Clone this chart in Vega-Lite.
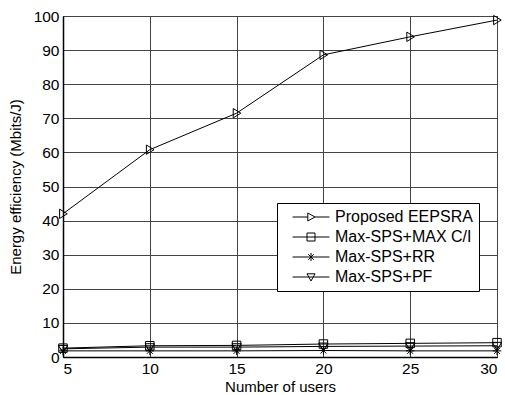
{
  "$schema": "https://vega.github.io/schema/vega-lite/v6.json",
  "width": 434,
  "height": 341,
  "autosize": {"type": "none"},
  "padding": {"left": 63, "top": 16, "right": 8, "bottom": 38},
  "background": "white",
  "config": {
    "font": "Liberation Sans",
    "view": {"stroke": "black", "strokeWidth": 1},
    "axis": {
      "labelFont": "Liberation Sans",
      "titleFont": "Liberation Sans",
      "labelFontSize": 15.5,
      "titleFontSize": 15,
      "labelColor": "black",
      "titleColor": "black",
      "titleFontWeight": "normal",
      "domainColor": "black",
      "domainWidth": 1.5,
      "gridColor": "#444",
      "gridWidth": 1,
      "gridOpacity": 1,
      "tickSize": 0
    }
  },
  "data": {
    "values": [
      {"users": 5, "ee": 42.0, "series": "Proposed EEPSRA"},
      {"users": 10, "ee": 60.8, "series": "Proposed EEPSRA"},
      {"users": 15, "ee": 71.5, "series": "Proposed EEPSRA"},
      {"users": 20, "ee": 88.6, "series": "Proposed EEPSRA"},
      {"users": 25, "ee": 93.9, "series": "Proposed EEPSRA"},
      {"users": 30, "ee": 98.8, "series": "Proposed EEPSRA"},
      {"users": 5, "ee": 2.6, "series": "Max-SPS+MAX C/I"},
      {"users": 10, "ee": 3.3, "series": "Max-SPS+MAX C/I"},
      {"users": 15, "ee": 3.4, "series": "Max-SPS+MAX C/I"},
      {"users": 20, "ee": 3.8, "series": "Max-SPS+MAX C/I"},
      {"users": 25, "ee": 4.0, "series": "Max-SPS+MAX C/I"},
      {"users": 30, "ee": 4.2, "series": "Max-SPS+MAX C/I"},
      {"users": 5, "ee": 1.8, "series": "Max-SPS+RR"},
      {"users": 10, "ee": 1.8, "series": "Max-SPS+RR"},
      {"users": 15, "ee": 1.8, "series": "Max-SPS+RR"},
      {"users": 20, "ee": 1.9, "series": "Max-SPS+RR"},
      {"users": 25, "ee": 1.8, "series": "Max-SPS+RR"},
      {"users": 30, "ee": 1.8, "series": "Max-SPS+RR"},
      {"users": 5, "ee": 2.4, "series": "Max-SPS+PF"},
      {"users": 10, "ee": 2.9, "series": "Max-SPS+PF"},
      {"users": 15, "ee": 2.9, "series": "Max-SPS+PF"},
      {"users": 20, "ee": 3.1, "series": "Max-SPS+PF"},
      {"users": 25, "ee": 3.2, "series": "Max-SPS+PF"},
      {"users": 30, "ee": 3.3, "series": "Max-SPS+PF"}
    ]
  },
  "encoding": {
    "x": {
      "field": "users",
      "type": "quantitative",
      "scale": {"domain": [5, 30], "nice": false, "zero": false},
      "axis": {"values": [5, 10, 15, 20, 25, 30], "title": "Number of users", "labelPadding": 4, "titlePadding": 3, "grid": true}
    },
    "y": {
      "field": "ee",
      "type": "quantitative",
      "scale": {"domain": [0, 100], "nice": false},
      "axis": {"values": [0, 10, 20, 30, 40, 50, 60, 70, 80, 90, 100], "title": "Energy efficiency (Mbits/J)", "labelPadding": 4, "titlePadding": 10, "grid": true}
    }
  },
  "layer": [
    {
      "mark": {"type": "line", "color": "black", "strokeWidth": 1},
      "encoding": {"detail": {"field": "series"}}
    },
    {
      "mark": {"type": "point", "filled": false, "color": "black", "strokeWidth": 1, "size": 72, "opacity": 1},
      "encoding": {
        "shape": {
          "field": "series",
          "type": "nominal",
          "scale": {
            "domain": ["Proposed EEPSRA", "Max-SPS+MAX C/I", "Max-SPS+RR", "Max-SPS+PF"],
            "range": [
              "M-0.8,-1.1L1,0L-0.8,1.1Z",
              "M-1,-1L1,-1L1,1L-1,1Z",
              "M-1,0L1,0M0,-1L0,1M-0.7,-0.7L0.7,0.7M-0.7,0.7L0.7,-0.7",
              "M-1.1,-0.8L1.1,-0.8L0,1Z"
            ]
          },
          "legend": null
        }
      }
    },
    {
      "transform": [{"filter": "false"}],
      "mark": {"type": "point", "filled": false, "color": "black", "strokeWidth": 1, "size": 64, "opacity": 1},
      "encoding": {
        "shape": {
          "field": "series",
          "type": "nominal",
          "scale": {
            "domain": ["Proposed EEPSRA", "Max-SPS+MAX C/I", "Max-SPS+RR", "Max-SPS+PF"],
            "range": [
              "M-4.6,0L-0.8,0M1,0L4.6,0M-0.8,-1L1,0L-0.8,1Z",
              "M-4.6,0L4.6,0M-1,-1L1,-1L1,1L-1,1Z",
              "M-4.6,0L4.6,0M0,-1L0,1M-0.7,-0.7L0.7,0.7M-0.7,0.7L0.7,-0.7",
              "M-4.6,0L4.6,0M-1,-0.8L1,-0.8L0,1Z"
            ]
          },
          "legend": {
            "title": null,
            "orient": "none",
            "legendX": 214,
            "legendY": 187,
            "direction": "vertical",
            "fillColor": "white",
            "strokeColor": "black",
            "padding": 6,
            "cornerRadius": 0,
            "labelFont": "Liberation Sans",
            "labelFontSize": 16,
            "labelColor": "black",
            "labelLimit": 300,
            "labelOffset": 16,
            "symbolSize": 64,
            "symbolOffset": 20,
            "symbolStrokeColor": "black",
            "symbolFillColor": "transparent",
            "symbolStrokeWidth": 1,
            "rowPadding": 4
          }
        }
      }
    }
  ],
  "resolve": {"scale": {"shape": "independent"}, "legend": {"shape": "independent"}}
}
